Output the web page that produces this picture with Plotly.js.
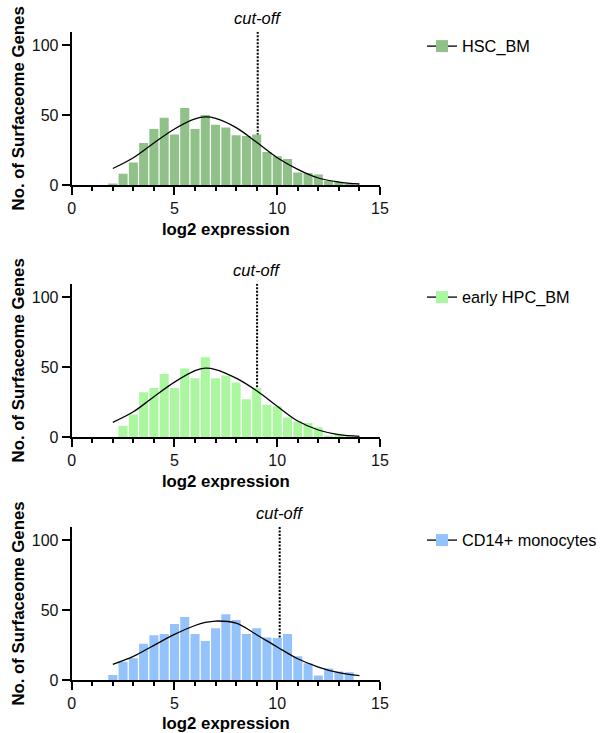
<!DOCTYPE html>
<html><head><meta charset="utf-8">
<script src="https://cdn.plot.ly/plotly-3.0.1.min.js"></script>
<style>html,body{margin:0;padding:0;background:#fff}#chart{width:600px;height:733px}</style>
</head><body><div id="chart"></div>
<script>
// ---- data ----
const binCenters = [2.0, 2.5, 3.0, 3.5, 4.0, 4.5, 5.0, 5.5, 6.0, 6.5, 7.0, 7.5, 8.0, 8.5, 9.0, 9.5, 10.0, 10.5, 11.0, 11.5, 12.0, 12.5, 13.0, 13.5, 14.0];
const hscCounts  = [1, 8, 16, 30, 40, 48, 36, 55, 40, 50, 43, 41, 35.5, 35, 36, 23.5, 20.5, 18.5, 9, 8.5, 7.5, 3, 2, 1, 0];
const hpcCounts  = [0, 8, 16, 32, 35, 45, 35, 49, 42, 57, 42, 44, 39, 27, 35, 23, 22, 14, 11, 10, 7, 1, 2, 0.5, 0];
const cd14Counts = [3.5, 13, 15.5, 26, 32, 33, 40, 45, 33, 28, 37, 47, 43, 33, 37, 30.5, 30, 33, 17, 12, 3.3, 8.3, 6, 5.5, 0];

const fitX       = [2, 3, 4, 5, 6, 6.5, 7, 8, 9, 10, 11, 12, 13, 14];
const hscFit     = [11.8, 19.5, 30, 40, 47.2, 48.6, 47.6, 41, 30.5, 19.5, 11.2, 5, 2.1, 0.7];
const hpcFit     = [10.5, 18, 28.8, 39.2, 47.4, 49.2, 48.2, 42, 33, 22, 11.4, 5, 1.7, 0.5];
const cd14Fit    = [11.2, 16.9, 24.8, 32.6, 39, 41.2, 42.2, 40.7, 32.4, 23.6, 15.2, 9.3, 5.2, 3.1];

const seriesNames = ["HSC_BM", "early HPC_BM", "CD14+ monocytes"];
const cutoffX     = [9.05, 9.02, 10.12];
const cutoffBase  = [36, 35, 30];
const xTicks = [0, 5, 10, 15];
const yTicks = [0, 50, 100];
const cutoffLabel = "cut-off";
const xTitle = "log2 expression";
const yTitle = "No. of Surfaceome Genes";

// ---- styling / layout ----
const colors = ["#8FC189", "#AAF7A0", "#94C2FA"];
const counts = [hscCounts, hpcCounts, cd14Counts];
const fits = [hscFit, hpcFit, cd14Fit];
const W = 600, H = 733;
const yMax = 109.5;
const panels = [{top: 31.7, bottom: 185, leg: 46.5}, {top: 283.7, bottom: 437, leg: 297.5}, {top: 527, bottom: 680, leg: 540.5}];
const FONT = "Liberation Sans, Arial, Helvetica, sans-serif";
const py = p => 1 - p / H;

const traces = [];
const layout = {
  width: W, height: H, margin: {l: 0, r: 0, t: 0, b: 0, autoexpand: false},
  paper_bgcolor: "#fff", plot_bgcolor: "#fff",
  bargap: 0.12, font: {family: FONT, color: "#000"},
  annotations: []
};

panels.forEach((p, i) => {
  const n = i === 0 ? "" : String(i + 1);
  const xa = "x" + n, ya = "y" + n;
  const legName = "legend" + n;
  traces.push({type: "bar", x: binCenters, y: counts[i], xaxis: xa, yaxis: ya,
    marker: {color: colors[i], line: {width: 0}}, showlegend: false, hoverinfo: "skip"});
  traces.push({type: "scatter", mode: "lines", x: fitX, y: fits[i], xaxis: xa, yaxis: ya,
    line: {color: "#000", width: 1.3, shape: "spline"}, showlegend: false, hoverinfo: "skip"});
  traces.push({type: "scatter", mode: "lines", x: [cutoffX[i], cutoffX[i]], y: [yMax, cutoffBase[i]], xaxis: xa, yaxis: ya,
    line: {color: "#000", width: 2, dash: "2px,1.5px"}, showlegend: false, hoverinfo: "skip"});
  traces.push({type: "scatter", mode: "lines+markers", x: [null], y: [null], xaxis: xa, yaxis: ya,
    name: seriesNames[i], legend: legName,
    line: {color: "#000", width: 1.3}, marker: {symbol: "square", size: 12, color: colors[i]}});

  layout["xaxis" + n] = {
    domain: [71.7 / W, 380 / W], anchor: ya, range: [0, 15],
    tickvals: xTicks, ticks: "outside", ticklen: 8, tickwidth: 2, tickcolor: "#000",
    minor: {dtick: 1, tick0: 0, ticks: "outside", ticklen: 4, tickwidth: 2, tickcolor: "#000", showgrid: false},
    showline: true, linewidth: 2, linecolor: "#000", showgrid: false, zeroline: false,
    tickfont: {size: 16, family: FONT, color: "#111"},
    title: {text: xTitle, font: {size: 16.8, family: FONT, weight: "bold", color: "#000"}, standoff: 7},
    fixedrange: true
  };
  layout["yaxis" + n] = {
    domain: [py(p.bottom), py(p.top)], anchor: xa, range: [0, yMax],
    tickvals: yTicks, ticks: "outside", ticklen: 8, tickwidth: 2, tickcolor: "#000",
    showline: true, linewidth: 2, linecolor: "#000", showgrid: false, zeroline: false,
    tickfont: {size: 16, family: FONT, color: "#111"},
    title: {text: yTitle, font: {size: 16.8, family: FONT, weight: "bold", color: "#000"}, standoff: 3},
    fixedrange: true
  };
  layout[legName] = {
    x: 422 / W, xanchor: "left", y: py(p.leg), yanchor: "middle",
    bgcolor: "rgba(0,0,0,0)", font: {size: 16.3, family: FONT, color: "#000"}, itemwidth: 30
  };
  layout.annotations.push({
    xref: xa, yref: ya + " domain", x: cutoffX[i], y: 1, yanchor: "bottom", xanchor: "center",
    yshift: 3, showarrow: false, text: cutoffLabel,
    font: {size: 16.5, family: FONT, style: "italic", color: "#000"}
  });
});

Plotly.newPlot("chart", traces, layout, {displayModeBar: false, staticPlot: true});
</script>
</body></html>
